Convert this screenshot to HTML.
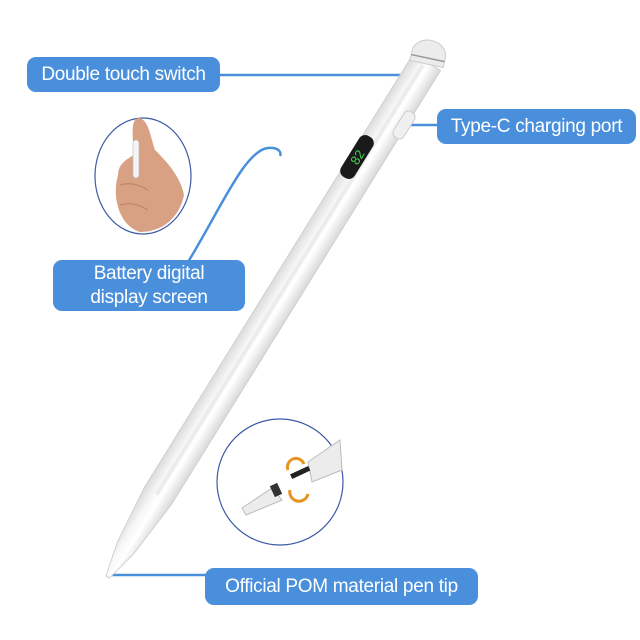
<!DOCTYPE html>
<html><head><meta charset="utf-8"><style>
html,body{margin:0;padding:0;background:#fff;}
body{width:640px;height:640px;position:relative;overflow:hidden;font-family:"Liberation Sans",sans-serif;}
.lb{position:absolute;background:#4a8fdc;color:#fff;border-radius:9px;font-size:19px;text-align:center;box-sizing:border-box;letter-spacing:-0.3px;}
</style></head><body>
<svg width="640" height="640" style="position:absolute;left:0;top:0">
<defs>
<linearGradient id="pg" x1="0" x2="1" y1="0" y2="0">
<stop offset="0" stop-color="#dcdcdc"/><stop offset="0.35" stop-color="#f7f7f7"/><stop offset="0.6" stop-color="#ffffff"/><stop offset="1" stop-color="#d8d8d8"/>
</linearGradient>
</defs>
<line x1="215" y1="75" x2="405" y2="75" stroke="#4a8fdc" stroke-width="2.5"/>
<line x1="400" y1="125" x2="440" y2="125" stroke="#4a8fdc" stroke-width="2.5"/>
<path d="M188 262 C220 210 245 150 268 148 C278 147 282 152 280 156" stroke="#4a8fdc" stroke-width="2.5" fill="none"/>
<line x1="108" y1="575" x2="210" y2="575" stroke="#4a8fdc" stroke-width="2.5"/>
<g transform="translate(427,62) rotate(31.8)">
<path d="M-16 0 L16 0 L16 510 L10 572 L2 606 L-2 606 L-10 572 L-16 510 Z" fill="url(#pg)" stroke="#d0d0d0" stroke-width="1"/>
<path d="M-2 5 L-2 510" stroke="#ececec" stroke-width="4"/>
</g>
<g transform="translate(427,62) rotate(12)">
<path d="M-17 2 L-17 -8 A17 14 0 0 1 17 -8 L17 2 Z" fill="#ececec" stroke="#ccc"/>
<line x1="-17" y1="-4" x2="17" y2="-4" stroke="#999" stroke-width="1.5"/>
</g>
<rect x="398" y="110" width="12" height="30" rx="5" fill="#f0f0f0" stroke="#ccc" transform="rotate(31.8 404 125)"/>
<g transform="translate(357,157) rotate(31.8)">
<rect x="-8" y="-24" width="16" height="48" rx="7" fill="#1a1a1a"/>
<text x="0" y="5" fill="#3fd24a" font-size="13" font-family="Liberation Sans" text-anchor="middle" transform="rotate(-90)">82</text>
</g>
<ellipse cx="143" cy="176" rx="48" ry="58" fill="#fff" stroke="#3b5aa6" stroke-width="1.2"/>
<path d="M118 175 C112 195 118 225 140 232 C165 232 180 215 184 195 C180 175 165 160 155 150 C150 135 148 118 138 118 C130 120 133 140 134 155 C125 160 118 165 118 175Z" fill="#d9a184"/>
<path d="M120 185 C130 182 140 185 148 190 M120 205 C130 202 140 205 148 210" stroke="#c08468" stroke-width="1.2" fill="none"/>
<rect x="133" y="140" width="6" height="38" rx="3" fill="#f5f5f5" stroke="#bbb" stroke-width="0.6"/>
<circle cx="280" cy="482" r="63" fill="#fff" stroke="#3b5aa6" stroke-width="1.2"/>
<path d="M308 462 L340 440 L342 470 L312 482 Z" fill="#ececec" stroke="#bbb"/>
<rect x="290" y="470" width="20" height="5" fill="#222" transform="rotate(-25 300 472)"/>
<path d="M242 508 L272 488 L282 500 L246 515 Z" fill="#ececec" stroke="#bbb"/>
<rect x="272" y="484" width="8" height="12" fill="#333" transform="rotate(-25 276 490)"/>
<path d="M288 470 A8 8 0 0 1 304 464" stroke="#e89420" stroke-width="3" fill="none"/>
<path d="M290 490 A8 8 0 0 0 308 494" stroke="#e89420" stroke-width="3" fill="none"/>
</svg>
<div class="lb" style="left:27px;top:57px;width:193px;height:35px;line-height:35px;">Double touch switch</div>
<div class="lb" style="left:437px;top:109px;width:199px;height:35px;line-height:35px;">Type-C charging port</div>
<div class="lb" style="left:53px;top:260px;width:192px;height:51px;line-height:24px;padding-top:2px;">Battery digital<br>display screen</div>
<div class="lb" style="left:205px;top:568px;width:273px;height:37px;line-height:37px;">Official POM material pen tip</div>
</body></html>
